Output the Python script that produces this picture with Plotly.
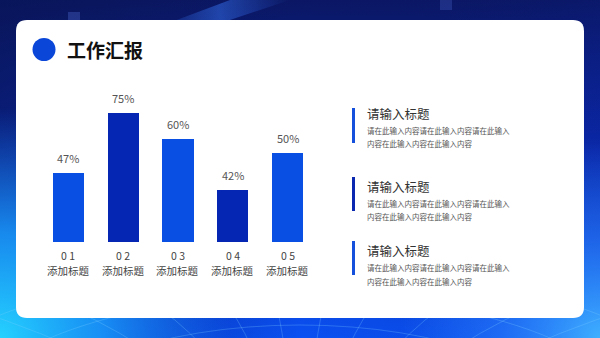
import base64
import plotly.graph_objects as go

# ---------------- data ----------------
categories = ["0 1", "0 2", "0 3", "0 4", "0 5"]
category_names = ["添加标题", "添加标题", "添加标题", "添加标题", "添加标题"]
value_labels = ["47%", "75%", "60%", "42%", "50%"]
bar_heights = [40, 75, 60, 30, 52]  # visual heights
bar_colors = ["#0a4fe4", "#0526b2", "#0a4fe4", "#0526b2", "#0a4fe4"]

block_titles = ["请输入标题", "请输入标题", "请输入标题"]
block_line1 = ["请在此输入内容请在此输入内容请在此输入"] * 3
block_line2 = ["内容在此输入内容在此输入内容"] * 3
block_colors = ["#1450dc", "#0a28b0", "#1450dc"]

title_text = "工作汇报"

W, H = 600, 338
FONT = "Noto Sans CJK SC, Noto Sans, sans-serif"


def px(x):
    return x / W


def py(y):
    return 1 - y / H


# ---------------- background (svg) ----------------
globe = []
for r in (60, 100, 140, 180, 220):
    globe.append(f'<ellipse cx="300" cy="430" rx="{r*1.9:.0f}" ry="{r*0.75:.0f}" fill="none" stroke="#7fd0ff" stroke-opacity="0.35" stroke-width="0.8"/>')
for dx in (-260, -180, -110, -55, -18, 18, 55, 110, 180, 260):
    globe.append(f'<path d="M {300+dx*0.2:.0f} 440 Q {300+dx*0.9:.0f} 330 {300+dx*1.4:.0f} 300" fill="none" stroke="#7fd0ff" stroke-opacity="0.35" stroke-width="0.8"/>')

svg = f'''<svg xmlns="http://www.w3.org/2000/svg" width="600" height="338" viewBox="0 0 600 338">
<defs>
<linearGradient id="g" x1="0" y1="0" x2="0" y2="1">
<stop offset="0" stop-color="#0b1764"/>
<stop offset="0.45" stop-color="#0a28ac"/>
<stop offset="1" stop-color="#0a50f2"/>
</linearGradient>
<linearGradient id="h" x1="0" y1="0" x2="1" y2="0">
<stop offset="0" stop-color="#081450" stop-opacity="0.5"/>
<stop offset="0.5" stop-color="#081450" stop-opacity="0"/>
<stop offset="1" stop-color="#0a2090" stop-opacity="0.15"/>
</linearGradient>
<radialGradient id="c" cx="0" cy="338" r="230" gradientUnits="userSpaceOnUse">
<stop offset="0" stop-color="#25d2ff"/>
<stop offset="0.45" stop-color="#1a9cff" stop-opacity="0.85"/>
<stop offset="1" stop-color="#1a80ff" stop-opacity="0"/>
</radialGradient>
<radialGradient id="d" cx="600" cy="338" r="200" gradientUnits="userSpaceOnUse">
<stop offset="0" stop-color="#3fb0ff"/>
<stop offset="0.5" stop-color="#2a80ff" stop-opacity="0.6"/>
<stop offset="1" stop-color="#2a80ff" stop-opacity="0"/>
</radialGradient>
<linearGradient id="s" x1="0" y1="0" x2="1" y2="0">
<stop offset="0" stop-color="#3a7cff" stop-opacity="0"/>
<stop offset="0.5" stop-color="#3a7cff" stop-opacity="0.45"/>
<stop offset="1" stop-color="#3a7cff" stop-opacity="0"/>
</linearGradient>
</defs>
<rect width="600" height="338" fill="url(#g)"/>
<rect width="600" height="338" fill="url(#h)"/>
<polygon points="230,0 290,0 200,30 150,30" fill="url(#s)"/>
<rect width="600" height="338" fill="url(#c)"/>
<rect width="600" height="338" fill="url(#d)"/>
{''.join(globe)}
<rect x="68" y="12" width="12" height="10" fill="#6a8cff" fill-opacity="0.25"/>
<rect x="440" y="0" width="12" height="10" fill="#6a8cff" fill-opacity="0.2"/>
</svg>'''
bg_uri = "data:image/svg+xml;base64," + base64.b64encode(svg.encode()).decode()

# ---------------- figure ----------------
xs = list(range(len(categories)))
fig = go.Figure()
fig.add_trace(go.Bar(
    x=xs, y=bar_heights, width=0.566,
    marker=dict(color=bar_colors, line=dict(width=0)),
    hoverinfo="skip", showlegend=False,
))

annotations = []
for i, (h, lab) in enumerate(zip(bar_heights, value_labels)):
    annotations.append(dict(
        x=i, y=h, xref="x", yref="y", text=lab, showarrow=False,
        yanchor="bottom", yshift=5, font=dict(family=FONT, size=11, color="#555555"),
    ))
for i, (c, n) in enumerate(zip(categories, category_names)):
    annotations.append(dict(
        x=i, y=0, xref="x", yref="y", text=c, showarrow=False,
        yanchor="middle", yshift=-13, font=dict(family=FONT, size=10.5, color="#444444"),
    ))
    annotations.append(dict(
        x=i, y=0, xref="x", yref="y", text=n, showarrow=False,
        yanchor="middle", yshift=-28, font=dict(family=FONT, size=10.5, color="#444444"),
    ))

# title
annotations.append(dict(
    x=px(65), y=py(50), xref="paper", yref="paper", text=f"<b>{title_text}</b>",
    showarrow=False, xanchor="left", yanchor="middle",
    font=dict(family=FONT, size=19, color="#111111"),
))

block_title_y = [114, 186, 250]
block_l1_y = [130, 203.5, 267.5]
block_l2_y = [144, 217, 281]
block_bar = [(108, 143), (177, 211), (241, 275)]

shapes = []
# white card
x0, y0, x1, y1, r = 16, 20, 584, 318, 11
path = (f"M {px(x0+r)},{py(y0)} L {px(x1-r)},{py(y0)} "
        f"Q {px(x1)},{py(y0)} {px(x1)},{py(y0+r)} L {px(x1)},{py(y1-r)} "
        f"Q {px(x1)},{py(y1)} {px(x1-r)},{py(y1)} L {px(x0+r)},{py(y1)} "
        f"Q {px(x0)},{py(y1)} {px(x0)},{py(y1-r)} L {px(x0)},{py(y0+r)} "
        f"Q {px(x0)},{py(y0)} {px(x0+r)},{py(y0)} Z")
shapes.append(dict(type="path", xref="paper", yref="paper", path=path,
                   fillcolor="#ffffff", line=dict(width=0), layer="below"))
# title circle
shapes.append(dict(type="circle", xref="paper", yref="paper",
                   x0=px(32.5), x1=px(55.5), y0=py(61), y1=py(38),
                   fillcolor="#0a46d8", line=dict(width=0), layer="below"))

for k in range(len(block_titles)):
    b0, b1 = block_bar[k]
    shapes.append(dict(type="rect", xref="paper", yref="paper",
                       x0=px(352), x1=px(355), y0=py(b1), y1=py(b0),
                       fillcolor=block_colors[k], line=dict(width=0), layer="below"))
    annotations.append(dict(
        x=px(365), y=py(block_title_y[k]), xref="paper", yref="paper",
        text=block_titles[k], showarrow=False, xanchor="left", yanchor="middle",
        font=dict(family=FONT, size=12.5, color="#333333"),
    ))
    annotations.append(dict(
        x=px(365), y=py(block_l1_y[k]), xref="paper", yref="paper",
        text=block_line1[k], showarrow=False, xanchor="left", yanchor="middle",
        font=dict(family=FONT, size=7.5, color="#555555"),
    ))
    annotations.append(dict(
        x=px(365), y=py(block_l2_y[k]), xref="paper", yref="paper",
        text=block_line2[k], showarrow=False, xanchor="left", yanchor="middle",
        font=dict(family=FONT, size=7.5, color="#555555"),
    ))

fig.update_layout(
    width=W, height=H,
    margin=dict(l=0, r=0, t=0, b=0),
    paper_bgcolor="rgba(0,0,0,0)", plot_bgcolor="rgba(0,0,0,0)",
    xaxis=dict(domain=[40.9 / W, 314.9 / W], range=[-0.5, 4.5],
               showgrid=False, zeroline=False, showticklabels=False, ticks=""),
    yaxis=dict(domain=[(H - 242) / H, (H - 70) / H], range=[0, 100],
               showgrid=False, zeroline=False, showticklabels=False, ticks=""),
    images=[dict(source=bg_uri, xref="paper", yref="paper", x=0, y=1,
                 sizex=1, sizey=1, xanchor="left", yanchor="top",
                 sizing="stretch", layer="below")],
    shapes=shapes,
    annotations=annotations,
    bargap=0,
)

fig.write_html("out.html")
